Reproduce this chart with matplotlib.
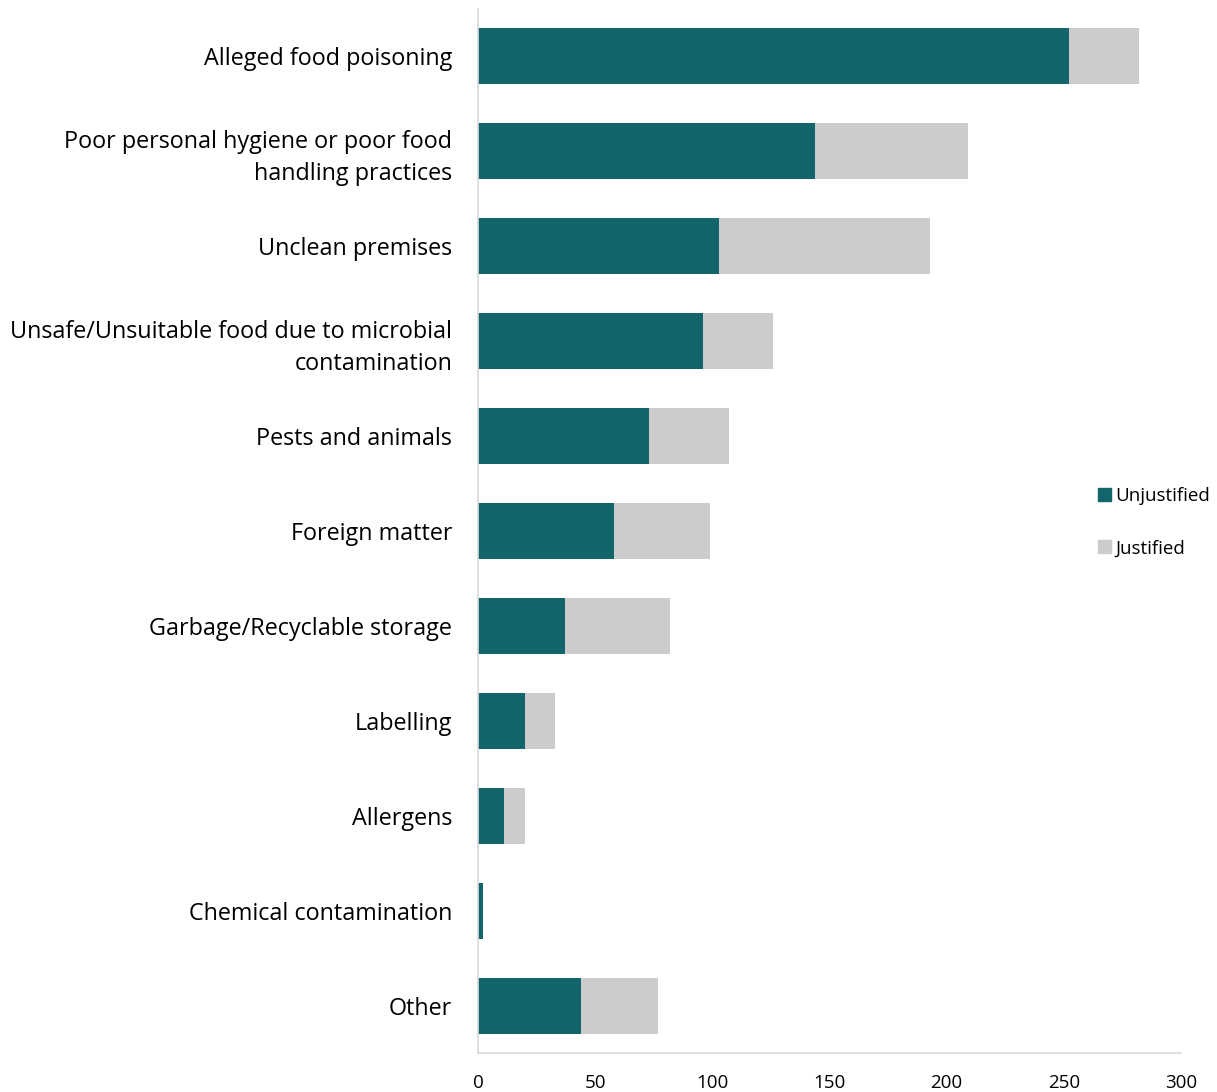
import matplotlib
matplotlib.use("Agg")
import matplotlib.pyplot as plt
from matplotlib.patches import Patch

categories = ["Alleged food poisoning",
              "Poor personal hygiene or poor food\nhandling practices",
              "Unclean premises",
              "Unsafe/Unsuitable food due to microbial\ncontamination",
              "Pests and animals",
              "Foreign matter",
              "Garbage/Recyclable storage",
              "Labelling",
              "Allergens",
              "Chemical contamination",
              "Other"]
unjustified = [252, 144, 103, 96, 73, 58, 37, 20, 11, 2, 44]
justified = [30, 65, 90, 30, 34, 41, 45, 13, 9, 0, 33]
xticks = [0, 50, 100, 150, 200, 250, 300]

teal = "#12656A"
grey = "#CCCCCC"
plt.rcParams['font.family'] = ['Open Sans', 'DejaVu Sans']

fig = plt.figure(figsize=(12.17, 10.92), dpi=100)
ax = fig.add_axes([478/1217, 1-1053/1092, (1181-478)/1217, (1053-9)/1092])
y = list(range(len(categories)))
ax.barh(y, unjustified, height=0.59, color=teal, label="Unjustified")
ax.barh(y, justified, left=unjustified, height=0.59, color=grey, label="Justified")
ax.set_ylim(len(categories)-0.5, -0.5)
ax.set_xlim(0, 300)
ax.set_xticks(xticks)
ax.set_yticks(y)
ax.set_yticklabels(categories, fontsize=16.8, linespacing=1.45)
ax.tick_params(axis='x', labelsize=13.5, length=0, pad=15)
ax.tick_params(axis='y', length=0, pad=18.5)
for lbl in ax.get_yticklabels():
    if "\n" in lbl.get_text():
        lbl.set_y(lbl.get_position()[1])
for s in ['top', 'right']:
    ax.spines[s].set_visible(False)
for s in ['left', 'bottom']:
    ax.spines[s].set_color('#D9D9D9')
    ax.spines[s].set_linewidth(1.2)
handles = [Patch(color=teal, label="Unjustified"), Patch(color=grey, label="Justified")]
fig.legend(handles=handles, loc='center left', bbox_to_anchor=(1081/1217, 1-522/1092),
           frameon=False, fontsize=13.5, handlelength=0.7, handleheight=0.7,
           handletextpad=0.25, labelspacing=1.85)
fig.savefig("out.png", dpi=100)
